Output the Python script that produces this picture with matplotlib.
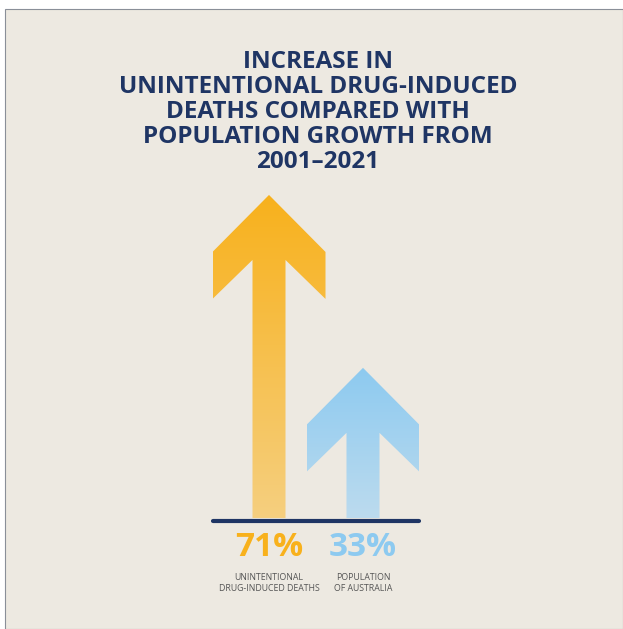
import matplotlib
matplotlib.use("Agg")
import matplotlib.pyplot as plt
import numpy as np
from matplotlib.patches import Polygon, Rectangle
from matplotlib.colors import LinearSegmentedColormap

# data
categories = ["UNINTENTIONAL\nDRUG-INDUCED DEATHS", "POPULATION\nOF AUSTRALIA"]
increase_pct = [71, 33]
top_colors = ["#F8B11C", "#8DCAF0"]
bottom_colors = ["#F5CF7F", "#BCDBEE"]
title = "INCREASE IN\nUNINTENTIONAL DRUG-INDUCED\nDEATHS COMPARED WITH\nPOPULATION GROWTH FROM\n2001\u20132021"

NAVY = "#1F3564"
BG = "#EDE9E1"
W, H = 623, 629

fig = plt.figure(figsize=(W / 100, H / 100), dpi=100)
fig.patch.set_facecolor("white")
fig.patches.append(Rectangle((5 / W, 0), 1 - 5 / W, 1 - 9 / H, transform=fig.transFigure,
                             facecolor=BG, edgecolor="#8a8f98", linewidth=0.8, zorder=-1))

# arrow axes: x 0 -> px 269, 1 -> px 363 ; y 0 -> px 518 from top, 4.55 px per unit
px_x, px_y = 94.0, 4.55
left_px = 269 - 0.6 * px_x
bottom_px = H - 518
ax = fig.add_axes([left_px / W, bottom_px / H, 2.2 * px_x / W, 80 * px_y / H])
ax.set_zorder(1)

hw, sw = 56.5 / px_x, 16.5 / px_x
hh, wt, inner = 57 / px_y, 47 / px_y, 65 / px_y

for i, v in enumerate(increase_pct):
    pts = [(i, v), (i + hw, v - hh), (i + hw, v - hh - wt), (i + sw, v - inner), (i + sw, 0),
           (i - sw, 0), (i - sw, v - inner), (i - hw, v - hh - wt), (i - hw, v - hh)]
    poly = Polygon(pts, closed=True, facecolor="none", edgecolor="none")
    ax.add_patch(poly)
    cmap = LinearSegmentedColormap.from_list("g%d" % i, [bottom_colors[i], top_colors[i]])
    grad = np.linspace(0, 1, 256).reshape(-1, 1)
    im = ax.imshow(grad, cmap=cmap, origin="lower", aspect="auto",
                   extent=(i - hw, i + hw, 0, v), zorder=2)
    im.set_clip_path(poly)

ax.set_xlim(-0.6, 1.6)
ax.set_ylim(0, 80)
ax.axis("off")
ax.plot([-0.6, 1.6], [-0.7, -0.7], color=NAVY, linewidth=3, solid_capstyle="round",
        zorder=3, clip_on=False)

# title
fig.text(318 / W, 1 - 50 / H, title, ha="center", va="top", color=NAVY,
         fontsize=17.5, fontweight="bold", family="Open Sans", linespacing=1.06)

# percentages and labels
for i, v in enumerate(increase_pct):
    xf = (269 + i * px_x) / W
    fig.text(xf, 1 - 548 / H, "%d%%" % v, ha="center", va="center", color=top_colors[i],
             fontsize=24, fontweight="bold", family="Open Sans")
    fig.text(xf, 1 - 583 / H, categories[i], ha="center", va="center", color="#555555",
             fontsize=6.3, family="Open Sans", linespacing=1.15)

fig.savefig("out.png", dpi=100, facecolor=fig.get_facecolor())
